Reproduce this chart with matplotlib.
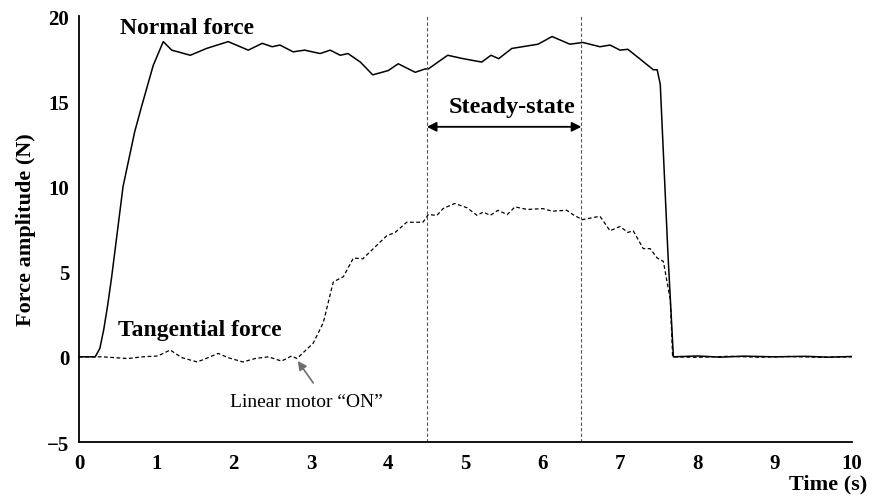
import matplotlib.pyplot as plt

plt.rcParams['font.family'] = ['Liberation Serif', 'DejaVu Serif']

normal_t = [0.0, 0.21, 0.27, 0.32, 0.37, 0.42, 0.47, 0.57, 0.72, 0.81, 0.96, 1.09,
            1.2, 1.44, 1.65, 1.93, 2.19, 2.37, 2.50, 2.60, 2.77, 2.92, 3.12, 3.25,
            3.38, 3.48, 3.64, 3.80, 4.00, 4.13, 4.35, 4.48, 4.52, 4.77, 4.97, 5.21,
            5.33, 5.43, 5.60, 5.94, 6.12, 6.35, 6.52, 6.74, 6.87, 7.00, 7.10, 7.28,
            7.43, 7.48, 7.52, 7.56, 7.62, 7.69, 8.0, 8.3, 8.6, 9.0, 9.4, 9.7, 10.0]
normal_f = [0.0, 0.0, 0.5, 1.6, 3.0, 4.6, 6.4, 10.0, 13.2, 14.7, 17.1, 18.5,
            18.0, 17.7, 18.1, 18.5, 18.0, 18.4, 18.2, 18.3, 17.9, 18.0, 17.8, 18.0,
            17.7, 17.8, 17.3, 16.55, 16.8, 17.2, 16.7, 16.9, 16.9, 17.7, 17.5, 17.3,
            17.7, 17.5, 18.1, 18.35, 18.8, 18.35, 18.45, 18.2, 18.3, 18.0, 18.05, 17.4,
            16.85, 16.85, 16.0, 12.0, 6.0, 0.0, 0.05, -0.02, 0.04, 0.0, 0.03, -0.02, 0.02]

tang_t = [0.0, 0.3, 0.47, 0.63, 0.82, 1.02, 1.18, 1.33, 1.53, 1.67, 1.80, 1.93,
          2.12, 2.28, 2.45, 2.62, 2.75, 2.82, 3.03, 3.16, 3.29, 3.42, 3.55, 3.67,
          3.98, 4.09, 4.24, 4.45, 4.52, 4.63, 4.71, 4.86, 5.02, 5.15, 5.23, 5.32,
          5.42, 5.54, 5.64, 5.80, 6.00, 6.12, 6.31, 6.39, 6.51, 6.74, 6.87, 7.00,
          7.10, 7.17, 7.30, 7.39, 7.48, 7.56, 7.65, 7.68, 8.0, 8.4, 8.8, 9.2, 9.6, 10.0]
tang_f = [0.0, 0.0, -0.05, -0.1, 0.0, 0.05, 0.4, -0.05, -0.3, -0.05, 0.2, -0.05,
          -0.3, -0.1, 0.0, -0.25, 0.05, -0.1, 0.8, 2.0, 4.4, 4.7, 5.8, 5.75,
          7.1, 7.3, 7.9, 7.9, 8.35, 8.3, 8.7, 9.0, 8.75, 8.3, 8.5, 8.3,
          8.6, 8.35, 8.8, 8.65, 8.7, 8.55, 8.6, 8.35, 8.05, 8.25, 7.4, 7.65,
          7.3, 7.4, 6.35, 6.35, 5.8, 5.6, 3.35, 0.0, -0.03, 0.03, -0.02, 0.02, -0.03, 0.0]

steady = [4.5, 6.5]
x_ticks = list(range(0, 11))
y_ticks = [-5, 0, 5, 10, 15, 20]

fig = plt.figure(figsize=(8.72, 5.02), dpi=100)
ax = fig.add_axes([0.0906, 0.1175, 0.8864, 0.8485])

ax.plot(normal_t, normal_f, color='black', lw=1.1)
ax.plot(tang_t, tang_f, color='black', lw=0.9, dashes=(3, 2))
for s in steady:
    ax.axvline(s, color='#555555', lw=0.8, dashes=(3, 2))

ax.annotate('', xy=(steady[0], 13.5), xytext=(steady[1], 13.5),
            arrowprops=dict(arrowstyle='<|-|>', color='black', lw=1.3,
                            mutation_scale=14, shrinkA=0, shrinkB=0))
ax.text(5.6, 14.7, 'Steady-state', ha='center', va='center', fontsize=17.5, fontweight='bold')
ax.text(0.53, 19.35, 'Normal force', ha='left', va='center', fontsize=17, fontweight='bold')
ax.text(0.5, 1.6, 'Tangential force', ha='left', va='center', fontsize=17, fontweight='bold')

# "Linear motor ON" marker
ax.text(2.94, -2.65, 'Linear motor \u201cON\u201d', ha='center', va='center', fontsize=14)
ax.annotate('', xy=(2.83, -0.24), xytext=(3.03, -1.53),
            arrowprops=dict(arrowstyle='-|>', color='#6e6e6e', lw=1.2,
                            mutation_scale=13, shrinkA=0, shrinkB=0))

ax.set_xlim(0, 10)
ax.set_ylim(-5, 20)
ax.set_xticks(x_ticks)
ax.set_yticks(y_ticks)
ax.set_yticklabels(['\u22125' if v < 0 else str(v) for v in y_ticks])
ax.tick_params(length=0, labelsize=15)
ax.tick_params(axis='x', pad=8)
ax.tick_params(axis='y', pad=7)
for lab in ax.get_xticklabels() + ax.get_yticklabels():
    lab.set_fontweight('bold')
for side in ['top', 'right']:
    ax.spines[side].set_visible(False)
for side in ['left', 'bottom']:
    ax.spines[side].set_linewidth(1.3)

ax.set_ylabel('Force amplitude (N)', fontsize=16, fontweight='bold', labelpad=8)
ax.set_xlabel('Time (s)', fontsize=16, fontweight='bold')
ax.xaxis.set_label_coords(1.02, -0.098)
ax.xaxis.label.set_ha('right')
ax.xaxis.label.set_va('center')

fig.savefig('out.png', dpi=100)
